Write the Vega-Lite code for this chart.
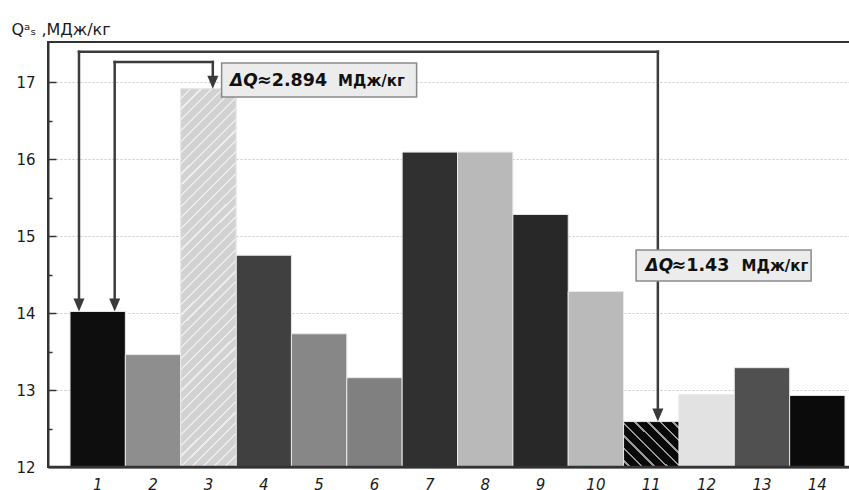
{
  "$schema": "https://vega.github.io/schema/vega-lite/v6.json",
  "width": 802,
  "height": 425,
  "autosize": "none",
  "padding": {"left": 48, "top": 42, "right": 0, "bottom": 23},
  "background": "white",
  "config": {
    "view": {"stroke": "#333333", "strokeWidth": 2},
    "font": "DejaVu Sans"
  },
  "datasets": {
    "q": [
      {"n": 1, "q": 14.02},
      {"n": 2, "q": 13.46},
      {"n": 3, "q": 16.914},
      {"n": 4, "q": 14.75},
      {"n": 5, "q": 13.73},
      {"n": 6, "q": 13.16},
      {"n": 7, "q": 16.09},
      {"n": 8, "q": 16.09},
      {"n": 9, "q": 15.28},
      {"n": 10, "q": 14.28},
      {"n": 11, "q": 12.59},
      {"n": 12, "q": 12.94},
      {"n": 13, "q": 13.29},
      {"n": 14, "q": 12.93}
    ]
  },
  "resolve": {"axis": {"y": "independent"}},
  "layer": [
    {
      "data": {"name": "q"},
      "mark": {"type": "bar", "stroke": "#e8e8e8", "strokeWidth": 1},
      "encoding": {
        "x": {
          "field": "n",
          "type": "ordinal",
          "scale": {"paddingInner": 0, "paddingOuter": 0.244, "align": 0.815},
          "axis": {
            "title": null,
            "labelAngle": 0,
            "labelFontStyle": "italic",
            "labelFontSize": 15,
            "labelColor": "#1a1a1a",
            "labelPadding": 10,
            "ticks": false,
            "domainColor": "#333333",
            "domainWidth": 2
          }
        },
        "y": {
          "field": "q",
          "type": "quantitative",
          "scale": {"domain": [12, 17.52], "nice": false, "zero": false},
          "axis": {
            "values": [12, 13, 14, 15, 16, 17],
            "labelExpr": "'' + datum.value",
            "labelFontSize": 15,
            "labelColor": "#1a1a1a",
            "labelPadding": 13,
            "ticks": false,
            "domainColor": "#333333",
            "domainWidth": 2,
            "grid": true,
            "gridColor": "#c8c8c8",
            "gridDash": [2, 2],
            "gridWidth": 1,
            "gridOpacity": {"condition": {"test": "datum.value === 12", "value": 0}, "value": 1},
            "title": "Qᵃₛ ,МДж/кг",
            "titleAngle": 0,
            "titleX": -37,
            "titleY": -8,
            "titleAlign": "left",
            "titleBaseline": "alphabetic",
            "titleFontSize": 16,
            "titleFontWeight": "normal",
            "titleColor": "#1a1a1a"
          }
        },
        "y2": {"datum": 12},
        "color": {
          "field": "n",
          "type": "ordinal",
          "legend": null,
          "scale": {
            "domain": [1, 2, 3, 4, 5, 6, 7, 8, 9, 10, 11, 12, 13, 14],
            "range": ["#0e0e0e", "#8e8e8e", "#d2d2d2", "#404040", "#878787", "#808080", "#303030", "#b9b9b9", "#282828", "#bababa", "#080808", "#e2e2e2", "#505050", "#0b0b0b"]
          }
        }
      }
    },
    {
      "data": {"name": "q"},
      "transform": [{"filter": "datum.n === 3"}],
      "mark": {
        "type": "bar",
        "stroke": "#e8e8e8",
        "strokeWidth": 1,
        "fill": {
          "gradient": "linear",
          "x1": 0, "y1": 0, "x2": 0.1639, "y2": 1.1227,
          "stops": [
            {"offset": 0, "color": "#d2d2d2"}, {"offset": 0.02, "color": "#d2d2d2"}, {"offset": 0.02, "color": "#ececec"}, {"offset": 0.025, "color": "#ececec"},
            {"offset": 0.025, "color": "#d2d2d2"}, {"offset": 0.045, "color": "#d2d2d2"}, {"offset": 0.045, "color": "#ececec"}, {"offset": 0.05, "color": "#ececec"},
            {"offset": 0.05, "color": "#d2d2d2"}, {"offset": 0.07, "color": "#d2d2d2"}, {"offset": 0.07, "color": "#ececec"}, {"offset": 0.075, "color": "#ececec"},
            {"offset": 0.075, "color": "#d2d2d2"}, {"offset": 0.095, "color": "#d2d2d2"}, {"offset": 0.095, "color": "#ececec"}, {"offset": 0.1, "color": "#ececec"},
            {"offset": 0.1, "color": "#d2d2d2"}, {"offset": 0.12, "color": "#d2d2d2"}, {"offset": 0.12, "color": "#ececec"}, {"offset": 0.125, "color": "#ececec"},
            {"offset": 0.125, "color": "#d2d2d2"}, {"offset": 0.145, "color": "#d2d2d2"}, {"offset": 0.145, "color": "#ececec"}, {"offset": 0.15, "color": "#ececec"},
            {"offset": 0.15, "color": "#d2d2d2"}, {"offset": 0.17, "color": "#d2d2d2"}, {"offset": 0.17, "color": "#ececec"}, {"offset": 0.175, "color": "#ececec"},
            {"offset": 0.175, "color": "#d2d2d2"}, {"offset": 0.195, "color": "#d2d2d2"}, {"offset": 0.195, "color": "#ececec"}, {"offset": 0.2, "color": "#ececec"},
            {"offset": 0.2, "color": "#d2d2d2"}, {"offset": 0.22, "color": "#d2d2d2"}, {"offset": 0.22, "color": "#ececec"}, {"offset": 0.225, "color": "#ececec"},
            {"offset": 0.225, "color": "#d2d2d2"}, {"offset": 0.245, "color": "#d2d2d2"}, {"offset": 0.245, "color": "#ececec"}, {"offset": 0.25, "color": "#ececec"},
            {"offset": 0.25, "color": "#d2d2d2"}, {"offset": 0.27, "color": "#d2d2d2"}, {"offset": 0.27, "color": "#ececec"}, {"offset": 0.275, "color": "#ececec"},
            {"offset": 0.275, "color": "#d2d2d2"}, {"offset": 0.295, "color": "#d2d2d2"}, {"offset": 0.295, "color": "#ececec"}, {"offset": 0.3, "color": "#ececec"},
            {"offset": 0.3, "color": "#d2d2d2"}, {"offset": 0.32, "color": "#d2d2d2"}, {"offset": 0.32, "color": "#ececec"}, {"offset": 0.325, "color": "#ececec"},
            {"offset": 0.325, "color": "#d2d2d2"}, {"offset": 0.345, "color": "#d2d2d2"}, {"offset": 0.345, "color": "#ececec"}, {"offset": 0.35, "color": "#ececec"},
            {"offset": 0.35, "color": "#d2d2d2"}, {"offset": 0.37, "color": "#d2d2d2"}, {"offset": 0.37, "color": "#ececec"}, {"offset": 0.375, "color": "#ececec"},
            {"offset": 0.375, "color": "#d2d2d2"}, {"offset": 0.395, "color": "#d2d2d2"}, {"offset": 0.395, "color": "#ececec"}, {"offset": 0.4, "color": "#ececec"},
            {"offset": 0.4, "color": "#d2d2d2"}, {"offset": 0.42, "color": "#d2d2d2"}, {"offset": 0.42, "color": "#ececec"}, {"offset": 0.425, "color": "#ececec"},
            {"offset": 0.425, "color": "#d2d2d2"}, {"offset": 0.445, "color": "#d2d2d2"}, {"offset": 0.445, "color": "#ececec"}, {"offset": 0.45, "color": "#ececec"},
            {"offset": 0.45, "color": "#d2d2d2"}, {"offset": 0.47, "color": "#d2d2d2"}, {"offset": 0.47, "color": "#ececec"}, {"offset": 0.475, "color": "#ececec"},
            {"offset": 0.475, "color": "#d2d2d2"}, {"offset": 0.495, "color": "#d2d2d2"}, {"offset": 0.495, "color": "#ececec"}, {"offset": 0.5, "color": "#ececec"},
            {"offset": 0.5, "color": "#d2d2d2"}, {"offset": 0.52, "color": "#d2d2d2"}, {"offset": 0.52, "color": "#ececec"}, {"offset": 0.525, "color": "#ececec"},
            {"offset": 0.525, "color": "#d2d2d2"}, {"offset": 0.545, "color": "#d2d2d2"}, {"offset": 0.545, "color": "#ececec"}, {"offset": 0.55, "color": "#ececec"},
            {"offset": 0.55, "color": "#d2d2d2"}, {"offset": 0.57, "color": "#d2d2d2"}, {"offset": 0.57, "color": "#ececec"}, {"offset": 0.575, "color": "#ececec"},
            {"offset": 0.575, "color": "#d2d2d2"}, {"offset": 0.595, "color": "#d2d2d2"}, {"offset": 0.595, "color": "#ececec"}, {"offset": 0.6, "color": "#ececec"},
            {"offset": 0.6, "color": "#d2d2d2"}, {"offset": 0.62, "color": "#d2d2d2"}, {"offset": 0.62, "color": "#ececec"}, {"offset": 0.625, "color": "#ececec"},
            {"offset": 0.625, "color": "#d2d2d2"}, {"offset": 0.645, "color": "#d2d2d2"}, {"offset": 0.645, "color": "#ececec"}, {"offset": 0.65, "color": "#ececec"},
            {"offset": 0.65, "color": "#d2d2d2"}, {"offset": 0.67, "color": "#d2d2d2"}, {"offset": 0.67, "color": "#ececec"}, {"offset": 0.675, "color": "#ececec"},
            {"offset": 0.675, "color": "#d2d2d2"}, {"offset": 0.695, "color": "#d2d2d2"}, {"offset": 0.695, "color": "#ececec"}, {"offset": 0.7, "color": "#ececec"},
            {"offset": 0.7, "color": "#d2d2d2"}, {"offset": 0.72, "color": "#d2d2d2"}, {"offset": 0.72, "color": "#ececec"}, {"offset": 0.725, "color": "#ececec"},
            {"offset": 0.725, "color": "#d2d2d2"}, {"offset": 0.745, "color": "#d2d2d2"}, {"offset": 0.745, "color": "#ececec"}, {"offset": 0.75, "color": "#ececec"},
            {"offset": 0.75, "color": "#d2d2d2"}, {"offset": 0.77, "color": "#d2d2d2"}, {"offset": 0.77, "color": "#ececec"}, {"offset": 0.775, "color": "#ececec"},
            {"offset": 0.775, "color": "#d2d2d2"}, {"offset": 0.795, "color": "#d2d2d2"}, {"offset": 0.795, "color": "#ececec"}, {"offset": 0.8, "color": "#ececec"},
            {"offset": 0.8, "color": "#d2d2d2"}, {"offset": 0.82, "color": "#d2d2d2"}, {"offset": 0.82, "color": "#ececec"}, {"offset": 0.825, "color": "#ececec"},
            {"offset": 0.825, "color": "#d2d2d2"}, {"offset": 0.845, "color": "#d2d2d2"}, {"offset": 0.845, "color": "#ececec"}, {"offset": 0.85, "color": "#ececec"},
            {"offset": 0.85, "color": "#d2d2d2"}, {"offset": 0.87, "color": "#d2d2d2"}, {"offset": 0.87, "color": "#ececec"}, {"offset": 0.875, "color": "#ececec"},
            {"offset": 0.875, "color": "#d2d2d2"}, {"offset": 0.895, "color": "#d2d2d2"}, {"offset": 0.895, "color": "#ececec"}, {"offset": 0.9, "color": "#ececec"},
            {"offset": 0.9, "color": "#d2d2d2"}, {"offset": 0.92, "color": "#d2d2d2"}, {"offset": 0.92, "color": "#ececec"}, {"offset": 0.925, "color": "#ececec"},
            {"offset": 0.925, "color": "#d2d2d2"}, {"offset": 0.945, "color": "#d2d2d2"}, {"offset": 0.945, "color": "#ececec"}, {"offset": 0.95, "color": "#ececec"},
            {"offset": 0.95, "color": "#d2d2d2"}, {"offset": 0.97, "color": "#d2d2d2"}, {"offset": 0.97, "color": "#ececec"}, {"offset": 0.975, "color": "#ececec"},
            {"offset": 0.975, "color": "#d2d2d2"}, {"offset": 0.995, "color": "#d2d2d2"}, {"offset": 0.995, "color": "#ececec"}, {"offset": 1, "color": "#ececec"}
          ]
        }
      },
      "encoding": {
        "x": {"field": "n", "type": "ordinal"},
        "y": {
          "field": "q",
          "type": "quantitative",
          "axis": {
            "orient": "right",
            "offset": -802,
            "values": [12.5, 13, 13.5, 14, 14.5, 15, 15.5, 16, 16.5, 17],
            "labels": false,
            "domain": false,
            "grid": false,
            "title": null,
            "tickColor": "#333333",
            "tickWidth": 1.5,
            "tickSize": {"condition": {"test": "datum.value % 1 === 0", "value": 8}, "value": 4}
          }
        },
        "y2": {"datum": 12}
      }
    },
    {
      "data": {"name": "q"},
      "transform": [{"filter": "datum.n === 11"}],
      "mark": {
        "type": "bar",
        "stroke": "#e8e8e8",
        "strokeWidth": 1,
        "fill": {
          "gradient": "linear",
          "x1": 0, "y1": 1, "x2": 1.0856, "y2": 0.1033,
          "stops": [
            {"offset": 0, "color": "#080808"},
            {"offset": 0.0505, "color": "#080808"}, {"offset": 0.0505, "color": "#9a9a9a"}, {"offset": 0.0745, "color": "#9a9a9a"}, {"offset": 0.0745, "color": "#080808"},
            {"offset": 0.1755, "color": "#080808"}, {"offset": 0.1755, "color": "#9a9a9a"}, {"offset": 0.1995, "color": "#9a9a9a"}, {"offset": 0.1995, "color": "#080808"},
            {"offset": 0.3005, "color": "#080808"}, {"offset": 0.3005, "color": "#9a9a9a"}, {"offset": 0.3245, "color": "#9a9a9a"}, {"offset": 0.3245, "color": "#080808"},
            {"offset": 0.4255, "color": "#080808"}, {"offset": 0.4255, "color": "#9a9a9a"}, {"offset": 0.4495, "color": "#9a9a9a"}, {"offset": 0.4495, "color": "#080808"},
            {"offset": 0.5505, "color": "#080808"}, {"offset": 0.5505, "color": "#9a9a9a"}, {"offset": 0.5745, "color": "#9a9a9a"}, {"offset": 0.5745, "color": "#080808"},
            {"offset": 0.6755, "color": "#080808"}, {"offset": 0.6755, "color": "#9a9a9a"}, {"offset": 0.6995, "color": "#9a9a9a"}, {"offset": 0.6995, "color": "#080808"},
            {"offset": 0.8005, "color": "#080808"}, {"offset": 0.8005, "color": "#9a9a9a"}, {"offset": 0.8245, "color": "#9a9a9a"}, {"offset": 0.8245, "color": "#080808"},
            {"offset": 0.9255, "color": "#080808"}, {"offset": 0.9255, "color": "#9a9a9a"}, {"offset": 0.9495, "color": "#9a9a9a"}, {"offset": 0.9495, "color": "#080808"},
            {"offset": 1, "color": "#080808"}
          ]
        }
      },
      "encoding": {
        "x": {"field": "n", "type": "ordinal"},
        "y": {"field": "q", "type": "quantitative", "axis": null},
        "y2": {"datum": 12}
      }
    },
    {
      "data": {"values": [{"v": 12}]},
      "mark": {"type": "rule", "color": "#333333", "strokeWidth": 2.5},
      "encoding": {"y": {"field": "v", "type": "quantitative", "axis": null}}
    },
    {
      "data": {"values": [{"a": 1, "b": 11, "v": 17.394}]},
      "mark": {"type": "rule", "color": "#3c3c3c", "strokeWidth": 2.5, "strokeCap": "square", "xOffset": -18.7, "x2Offset": 6.6},
      "encoding": {"x": {"field": "a", "type": "ordinal"}, "x2": {"field": "b"}, "y": {"field": "v", "type": "quantitative", "axis": null}}
    },
    {
      "data": {"values": [{"a": 1, "v": 17.394, "w": 14.1}]},
      "mark": {"type": "rule", "color": "#3c3c3c", "strokeWidth": 2.5, "strokeCap": "square", "xOffset": -18.7},
      "encoding": {"x": {"field": "a", "type": "ordinal"}, "y": {"field": "v", "type": "quantitative", "axis": null}, "y2": {"field": "w"}}
    },
    {
      "data": {"values": [{"a": 11, "v": 17.394, "w": 12.67}]},
      "mark": {"type": "rule", "color": "#3c3c3c", "strokeWidth": 2.5, "strokeCap": "square", "xOffset": 6.6},
      "encoding": {"x": {"field": "a", "type": "ordinal"}, "y": {"field": "v", "type": "quantitative", "axis": null}, "y2": {"field": "w"}}
    },
    {
      "data": {"values": [{"a": 1, "b": 3, "v": 17.26}]},
      "mark": {"type": "rule", "color": "#3c3c3c", "strokeWidth": 2.5, "strokeCap": "square", "xOffset": 17, "x2Offset": 4.4},
      "encoding": {"x": {"field": "a", "type": "ordinal"}, "x2": {"field": "b"}, "y": {"field": "v", "type": "quantitative", "axis": null}}
    },
    {
      "data": {"values": [{"a": 1, "v": 17.26, "w": 14.1}]},
      "mark": {"type": "rule", "color": "#3c3c3c", "strokeWidth": 2.5, "strokeCap": "square", "xOffset": 17},
      "encoding": {"x": {"field": "a", "type": "ordinal"}, "y": {"field": "v", "type": "quantitative", "axis": null}, "y2": {"field": "w"}}
    },
    {
      "data": {"values": [{"a": 3, "v": 17.26, "w": 17.0}]},
      "mark": {"type": "rule", "color": "#3c3c3c", "strokeWidth": 2.5, "strokeCap": "square", "xOffset": 4.4},
      "encoding": {"x": {"field": "a", "type": "ordinal"}, "y": {"field": "v", "type": "quantitative", "axis": null}, "y2": {"field": "w"}}
    },
    {
      "data": {"values": [{"a": 1, "v": 14.02}]},
      "mark": {"type": "point", "shape": "M-1.1,-2.6L1.1,-2.6L0,0Z", "size": 100, "filled": true, "opacity": 1, "color": "#3a3a3a", "xOffset": -18.7},
      "encoding": {"x": {"field": "a", "type": "ordinal"}, "y": {"field": "v", "type": "quantitative", "axis": null}}
    },
    {
      "data": {"values": [{"a": 1, "v": 14.02}]},
      "mark": {"type": "point", "shape": "M-1.1,-2.6L1.1,-2.6L0,0Z", "size": 100, "filled": true, "opacity": 1, "color": "#3a3a3a", "xOffset": 17},
      "encoding": {"x": {"field": "a", "type": "ordinal"}, "y": {"field": "v", "type": "quantitative", "axis": null}}
    },
    {
      "data": {"values": [{"a": 3, "v": 16.914}]},
      "mark": {"type": "point", "shape": "M-1.1,-2.6L1.1,-2.6L0,0Z", "size": 100, "filled": true, "opacity": 1, "color": "#3a3a3a", "xOffset": 4.4},
      "encoding": {"x": {"field": "a", "type": "ordinal"}, "y": {"field": "v", "type": "quantitative", "axis": null}}
    },
    {
      "data": {"values": [{"a": 11, "v": 12.59}]},
      "mark": {"type": "point", "shape": "M-1.1,-2.6L1.1,-2.6L0,0Z", "size": 100, "filled": true, "opacity": 1, "color": "#3a3a3a", "xOffset": 6.6},
      "encoding": {"x": {"field": "a", "type": "ordinal"}, "y": {"field": "v", "type": "quantitative", "axis": null}}
    },
    {
      "data": {"values": [{"a": 5, "v": 17.247, "w": 16.805}]},
      "mark": {"type": "bar", "width": 195, "fill": "#ececec", "stroke": "#8a8a8a", "strokeWidth": 1.5},
      "encoding": {"x": {"field": "a", "type": "ordinal"}, "y": {"field": "v", "type": "quantitative", "axis": null}, "y2": {"field": "w"}}
    },
    {
      "data": {"values": [{"a": 12, "v": 14.818, "w": 14.416}]},
      "mark": {"type": "bar", "width": 175, "fill": "#ececec", "stroke": "#8a8a8a", "strokeWidth": 1.5, "xOffset": 17},
      "encoding": {"x": {"field": "a", "type": "ordinal"}, "y": {"field": "v", "type": "quantitative", "axis": null}, "y2": {"field": "w"}}
    },
    {
      "data": {"values": [{"a": 5, "v": 16.948, "t": "ΔQ"}]},
      "mark": {"type": "text", "align": "left", "baseline": "alphabetic", "fontSize": 17, "fontWeight": "bold", "fontStyle": "italic", "color": "#111111", "xOffset": -89},
      "encoding": {"x": {"field": "a", "type": "ordinal"}, "y": {"field": "v", "type": "quantitative", "axis": null}, "text": {"field": "t"}}
    },
    {
      "data": {"values": [{"a": 5, "v": 16.948, "t": "≈2.894"}]},
      "mark": {"type": "text", "align": "left", "baseline": "alphabetic", "fontSize": 17.5, "fontWeight": "bold", "color": "#111111", "xOffset": -62},
      "encoding": {"x": {"field": "a", "type": "ordinal"}, "y": {"field": "v", "type": "quantitative", "axis": null}, "text": {"field": "t"}}
    },
    {
      "data": {"values": [{"a": 5, "v": 16.948, "t": "МДж/кг"}]},
      "mark": {"type": "text", "align": "left", "baseline": "alphabetic", "fontSize": 15, "fontWeight": "bold", "color": "#111111", "xOffset": 19},
      "encoding": {"x": {"field": "a", "type": "ordinal"}, "y": {"field": "v", "type": "quantitative", "axis": null}, "text": {"field": "t"}}
    },
    {
      "data": {"values": [{"a": 12, "v": 14.545, "t": "ΔQ"}]},
      "mark": {"type": "text", "align": "left", "baseline": "alphabetic", "fontSize": 17, "fontWeight": "bold", "fontStyle": "italic", "color": "#111111", "xOffset": -61},
      "encoding": {"x": {"field": "a", "type": "ordinal"}, "y": {"field": "v", "type": "quantitative", "axis": null}, "text": {"field": "t"}}
    },
    {
      "data": {"values": [{"a": 12, "v": 14.545, "t": "≈1.43"}]},
      "mark": {"type": "text", "align": "left", "baseline": "alphabetic", "fontSize": 17.5, "fontWeight": "bold", "color": "#111111", "xOffset": -35},
      "encoding": {"x": {"field": "a", "type": "ordinal"}, "y": {"field": "v", "type": "quantitative", "axis": null}, "text": {"field": "t"}}
    },
    {
      "data": {"values": [{"a": 12, "v": 14.545, "t": "МДж/кг"}]},
      "mark": {"type": "text", "align": "left", "baseline": "alphabetic", "fontSize": 15, "fontWeight": "bold", "color": "#111111", "xOffset": 35},
      "encoding": {"x": {"field": "a", "type": "ordinal"}, "y": {"field": "v", "type": "quantitative", "axis": null}, "text": {"field": "t"}}
    }
  ]
}
